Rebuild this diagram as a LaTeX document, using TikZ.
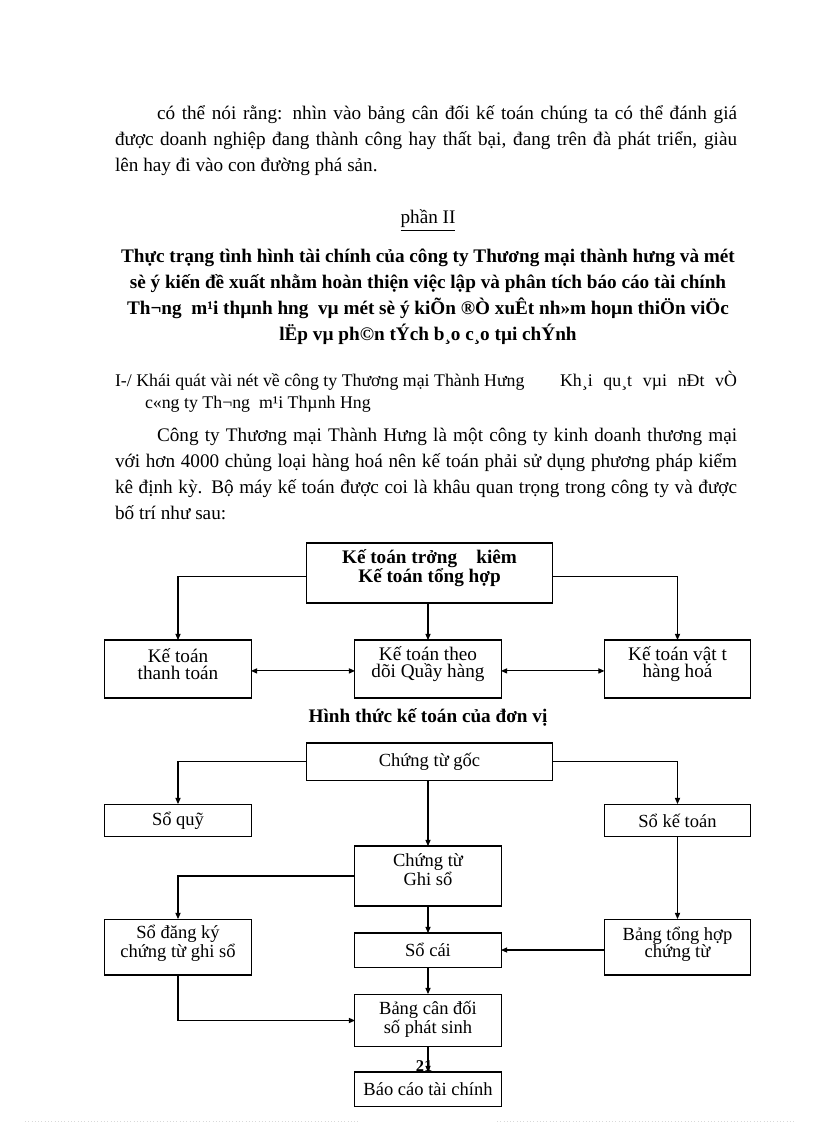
\documentclass[tikz,border=0pt]{standalone}
\usepackage{fontspec}
\setmainfont{Liberation Serif}
\usetikzlibrary{arrows.meta}
\begin{document}
\begin{tikzpicture}[x=0.7292pt,y=-0.7292pt,
  every node/.style={inner sep=0pt, outer sep=0pt},
  line/.style={anchor=base west, font=\fontsize{14}{19}\selectfont},
  cline/.style={anchor=base, font=\fontsize{14}{19}\selectfont},
  tline/.style={anchor=base, font=\fontsize{14}{19}\selectfont\bfseries},
  hline/.style={anchor=base west, font=\fontsize{13}{16}\selectfont},
  box/.style={draw, line width=0.75pt, align=center},
  wide/.style={minimum width=178.7pt},
  narrow/.style={minimum width=106.5pt},
  dA/.style={align=center, font=\fontsize{14}{12.6}\selectfont},
  dB/.style={align=center, font=\fontsize{13.5}{12.5}\selectfont},
  conn/.style={line width=0.75pt},
  arr/.style={conn, -{Triangle[length=4.5pt,width=3.8pt]}},
  darr/.style={conn, {Triangle[length=4.5pt,width=3.8pt]}-{Triangle[length=4.5pt,width=3.8pt]}}
]
\useasboundingbox (0,0) rectangle (816,1123);
\fill[white] (0,0) rectangle (816,1123);

% paragraph 1
\node[line] (p1a) at (157,120) {\makebox[423pt][s]{có thể nói rằng: nhìn vào bảng cân đối kế toán chúng ta có thể đánh giá}};
\node[line] (p1b) at (115,146) {\makebox[453.6pt][s]{được doanh nghiệp đang thành công hay thất bại, đang trên đà phát triển, giàu}};
\node[line] (p1c) at (115,172) {lên hay đi vào con đường phá sản.};

\node[cline] (part) at (428,224) {\underline{phần II}};

\node[tline] (t1) at (428,263) {Thực trạng tình hình tài chính của công ty Thương mại thành hưng và mét};
\node[tline] (t2) at (428,289) {sè ý kiến đề xuất nhằm hoàn thiện việc lập và phân tích báo cáo tài chính};
\node[tline] (t3) at (428,315) {Th¬ng\ \ m¹i thµnh hng\ \ vµ mét sè ý kiÕn ®Ò xuÊt nh»m hoµn thiÖn viÖc};
\node[tline] (t4) at (428,341) {lËp vµ ph©n tÝch b¸o c¸o tµi chÝnh};

\node[hline] (h1) at (115,386) {I-/ Khái quát vài nét về công ty Thương mại Thành Hưng};
\node[hline, anchor=base east] (h1b) at (737,386) {\makebox[129pt][s]{Kh¸i qu¸t vµi nÐt vÒ}};
\node[hline] (h2) at (145,408) {c«ng ty Th¬ng\ \ m¹i Thµnh Hng};

% paragraph 2
\node[line] (p2a) at (157,441) {\makebox[423pt][s]{Công ty Thương mại Thành Hưng là một công ty kinh doanh thương mại}};
\node[line] (p2b) at (115,467) {\makebox[453.6pt][s]{với hơn 4000 chủng loại hàng hoá nên kế toán phải sử dụng phương pháp kiểm}};
\node[line] (p2c) at (115,493) {\makebox[453.6pt][s]{kê định kỳ. Bộ máy kế toán được coi là khâu quan trọng trong công ty và được}};
\node[line] (p2d) at (115,519) {bố trí như sau:};

% diagram 1
\node[box, wide, minimum height=43.75pt] (T) at (429.5,573) {};
\node[align=center, font=\fontsize{14}{13.5}\selectfont\bfseries] (Tt) at (429.5,568) {Kế toán trởng\ \ \ \ kiêm\\Kế toán tổng hợp};
\node[box, narrow, minimum height=42.3pt] (L) at (178,669) {};
\node[dA] (Lt) at (178,664) {Kế toán\\thanh toán};
\node[box, narrow, minimum height=42.3pt] (M) at (428,669) {};
\node[dA] (Mt) at (428,664) {Kế toán theo\\dõi Quầy hàng};
\node[box, narrow, minimum height=42.3pt] (R) at (677.5,669) {};
\node[dA] (Rt) at (677.5,664) {Kế toán vật t\\hàng hoá};
\draw[arr] ([yshift=-2.9pt]T.west) -| (L.north);
\draw[arr] ([yshift=-2.9pt]T.east) -| (R.north);
\draw[arr] (T.south -| M.north) -- (M.north);
\draw[darr] ([yshift=-1.4pt]L.east) -- ([yshift=-1.4pt]M.west);
\draw[darr] ([yshift=-1.4pt]M.east) -- ([yshift=-1.4pt]R.west);

\node[tline] (cap) at (428,722) {Hình thức kế toán của đơn vị};

% diagram 2
\node[box, wide, minimum height=27pt, dB] (G) at (429.5,761.5) {Chứng từ gốc};
\node[box, narrow, minimum height=24pt, dB] (Q) at (178,820.5) {Sổ quỹ};
\node[box, narrow, minimum height=24pt, dB] (K) at (677.5,820.5) {Sổ kế toán};
\node[box, narrow, minimum height=43.75pt] (C) at (428,876) {};
\node[dB] (Ct) at (428,870) {Chứng từ\\Ghi sổ};
\node[box, narrow, minimum height=40.8pt] (D) at (178,947) {};
\node[dB] (Dt) at (178,943.5) {Sổ đăng ký\\chứng từ ghi sổ};
\node[box, narrow, minimum height=24.8pt, dB] (S) at (428,950) {Sổ cái};
\node[box, narrow, minimum height=40.8pt] (B) at (677.5,947) {};
\node[dB] (Bt) at (677.5,944) {Bảng tổng hợp\\chứng từ};
\node[box, narrow, minimum height=38.6pt] (N) at (428,1020.5) {};
\node[dB] (Nt) at (428,1019) {Bảng cân đối\\số phát sinh};
\node[font=\fontsize{12}{12}\selectfont\bfseries, anchor=base] (pg) at (424,1071) {21};
\node[box, narrow, minimum height=24.8pt, dB] (F) at (428,1089) {Báo cáo tài chính};

\draw[arr] (G.west) -| (Q.north);
\draw[arr] (G.east) -| (K.north);
\draw[arr] (G.south -| C.north) -- (C.north);
\draw[arr] (C.west) -| (D.north);
\draw[arr] (C.south) -- (S.north);
\draw[arr] (K.south) -- (B.north);
\draw[arr] (B.west |- S.east) -- (S.east);
\draw[arr] (S.south) -- (N.north);
\draw[arr] (D.south) |- (N.west);
\draw[arr] (N.south) -- (F.north);

% faint page edge dots
\coordinate (e1) at (25,1121.5);
\coordinate (e2) at (358,1121.5);
\coordinate (e3) at (497,1121.5);
\coordinate (e4) at (796,1121.5);
\draw[gray!30, dotted, line width=0.4pt] (e1) -- (e2) (e3) -- (e4);
\end{tikzpicture}
\end{document}
